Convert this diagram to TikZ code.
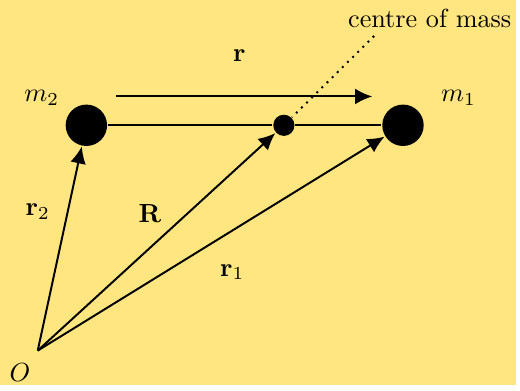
\documentclass[tikz,border=0pt]{standalone}
\usepackage{amsmath,amssymb}
\usetikzlibrary{arrows.meta}
\definecolor{bgyellow}{RGB}{255,230,128}

\begin{document}
\begin{tikzpicture}[line width=0.75pt,
    mass/.style={circle, fill=black, inner sep=0pt, minimum size=0.556cm},
    cmass/.style={circle, fill=black, inner sep=0pt, minimum size=0.285cm},
    vec/.style={-{Latex[length=6.5pt,width=6pt]}}]
    % background fixes the margins
    \fill[bgyellow] (-0.507,-0.467) rectangle (6.425,4.706);
    % origin and the two bodies, centre of mass between them
    \coordinate (O) at (0,0);
    \node[mass]  (m2)  at (0.653,3.026) {};
    \node[mass]  (m1)  at (4.906,3.026) {};
    \node[cmass] (com) at (3.306,3.026) {};
    \draw (m2) -- (com) -- (m1);
    % separation vector above the bodies
    \coordinate (ra) at (1.053,3.413);
    \coordinate (rb) at (4.493,3.413);
    \draw[vec] (ra) -- (rb);
    % position vectors from O
    \draw[vec] (O) -- (m2);
    \draw[vec] (O) -- (com);
    \draw[vec] (O) -- (m1);
    % labels
    \node (lO)  at (-0.24,-0.293) {$O$};
    \node (lm2) at (0.053,3.399) {$m_2$};
    \node (lm1) at (5.652,3.399) {$m_1$};
    \node (lr)  at (2.706,3.959) {$\mathbf{r}$};
    \node (lr2) at (0,1.866) {$\mathbf{r}_2$};
    \node (lR)  at (1.506,1.84) {$\mathbf{R}$};
    \node (lr1) at (2.613,1.053) {$\mathbf{r}_1$};
    \node (lcm) at (5.265,4.466) {centre of mass};
    \coordinate (cmtip) at (4.519,4.226);
    \draw[dotted] (cmtip) -- (com);
\end{tikzpicture}
\end{document}
